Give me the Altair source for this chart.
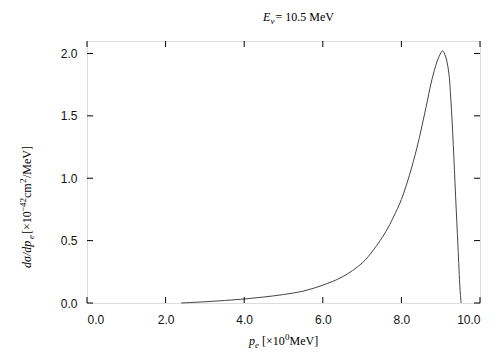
import altair as alt
import pandas as pd

# curve data
p_e = [2.4, 3.0, 3.5, 4.0, 4.5, 5.0, 5.5, 6.0, 6.5, 7.0, 7.3, 7.6, 7.8, 8.0, 8.2, 8.4,
       8.6, 8.8, 8.95, 9.05, 9.12, 9.2, 9.26, 9.32, 9.38, 9.44, 9.49, 9.52]
dsig = [0.0, 0.01, 0.02, 0.032, 0.048, 0.068, 0.095, 0.143, 0.21, 0.32, 0.43, 0.57, 0.69, 0.83, 1.02, 1.25,
        1.53, 1.82, 1.97, 2.02, 1.98, 1.86, 1.62, 1.27, 0.85, 0.45, 0.12, 0.0]

x_ticks = [0, 2, 4, 6, 8, 10]
y_ticks = [0.0, 0.5, 1.0, 1.5, 2.0]

W, H = 393, 262
SERIF = "Liberation Serif"
SANS = "Liberation Sans"

curve_df = pd.DataFrame({"p": p_e, "v": dsig})
xt_df = pd.DataFrame({"x": x_ticks})
yt_df = pd.DataFrame({"y": y_ticks})

xscale = alt.Scale(domain=[0, 10], nice=False)
yscale = alt.Scale(domain=[0, 2.1], nice=False)

curve = alt.Chart(curve_df).mark_line(color="#444444", strokeWidth=1, interpolate="catmull-rom").encode(
    x=alt.X("p:Q", scale=xscale,
            axis=alt.Axis(values=x_ticks, format=".1f", title=None, ticks=False, domain=False, grid=False,
                          labelFont=SANS, labelFontSize=12, labelColor="#111", labelPadding=11)),
    y=alt.Y("v:Q", scale=yscale,
            axis=alt.Axis(values=y_ticks, format=".1f", title=None, ticks=False, domain=False, grid=False,
                          labelFont=SANS, labelFontSize=12, labelColor="#111", labelPadding=10)),
)

TL = 6
bt = alt.Chart(xt_df).mark_rule(color="black", strokeWidth=1).encode(
    x=alt.X("x:Q", scale=xscale), y=alt.value(H), y2=alt.value(H - TL))
tt = alt.Chart(xt_df).mark_rule(color="black", strokeWidth=1).encode(
    x=alt.X("x:Q", scale=xscale), y=alt.value(0), y2=alt.value(TL))
lt = alt.Chart(yt_df).mark_rule(color="black", strokeWidth=1).encode(
    y=alt.Y("y:Q", scale=yscale), x=alt.value(0), x2=alt.value(TL))
rt = alt.Chart(yt_df).mark_rule(color="black", strokeWidth=1).encode(
    y=alt.Y("y:Q", scale=yscale), x=alt.value(W), x2=alt.value(W - TL))


def seg(text, x, y, size=12, italic=False, angle=0):
    kw = dict(font=SERIF, fontSize=size, align="left", baseline="alphabetic", color="black")
    if italic:
        kw["fontStyle"] = "italic"
    if angle:
        kw["angle"] = angle
    return alt.Chart(pd.DataFrame({"t": [text]})).mark_text(**kw).encode(
        x=alt.value(x), y=alt.value(y), text="t:N")


# title  E_nu = 10.5 MeV
ty = -20
title = [
    seg("E", 176, ty, 12, True),
    seg("\u03bd", 183.5, ty + 3, 9, True),
    seg("= 10.5 MeV", 188.5, ty, 12),
]

# x label  p_e [x10^0 MeV]
xy = 304
xlab = [
    seg("p", 162, xy, 12, True),
    seg("e", 168, xy + 3, 9, True),
    seg("[\u00d710", 175, xy, 12),
    seg("0", 198, xy - 5, 9),
    seg("MeV]", 202.5, xy, 12),
]

# y label  d sigma/dp_e [x10^-42 cm^2/MeV]
yx = -56
y0 = 227
ylab = [
    seg("d\u03c3/dp", yx, y0, 12, True, 270),
    seg("e", yx + 3, y0 - 29, 9, True, 270),
    seg(" [\u00d710", yx, y0 - 34, 12, False, 270),
    seg("\u221242", yx - 5, y0 - 56, 9, False, 270),
    seg("cm", yx, y0 - 70, 12, False, 270),
    seg("2", yx - 5, y0 - 85, 9, False, 270),
    seg("/MeV]", yx, y0 - 90, 12, False, 270),
]

chart = alt.layer(curve, bt, tt, lt, rt, *title, *xlab, *ylab).properties(
    width=W, height=H,
    autosize=alt.AutoSizeParams(type="none"),
    padding={"left": 79, "top": 33, "right": 16, "bottom": 49},
).configure_view(stroke="black", strokeWidth=2).configure(background="white")

chart.save("out.html", embed_options={"renderer": "svg", "actions": False})
